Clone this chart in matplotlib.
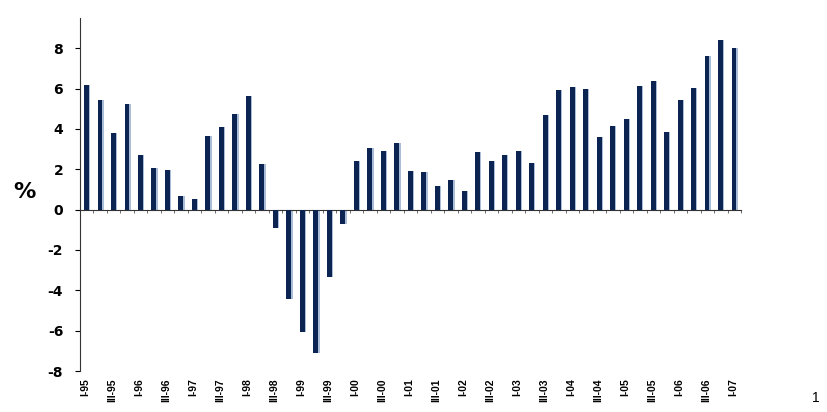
import numpy as np
import matplotlib
matplotlib.use("Agg")
import matplotlib.pyplot as plt

# quarterly growth, I-95 .. I-07
quarters = [f"{q}-{y:02d}" for y in list(range(95, 100)) + list(range(0, 8))
            for q in ("I", "II", "III", "IV")][:49]
values = [6.18, 5.45, 3.82, 5.21, 2.71, 2.05, 1.98, 0.66, 0.53, 3.65,
          4.07, 4.76, 5.65, 2.26, -0.90, -4.41, -6.09, -7.11, -3.36, -0.71,
          2.41, 3.07, 2.88, 3.29, 1.92, 1.88, 1.19, 1.47, 0.91, 2.83,
          2.41, 2.69, 2.91, 2.30, 4.71, 5.95, 6.10, 5.98, 3.60, 4.13,
          4.50, 6.15, 6.38, 3.85, 5.45, 6.02, 7.62, 8.43, 8.03]
shown_labels = quarters[::2]
yticks = [-8, -6, -4, -2, 0, 2, 4, 6, 8]

plt.rcParams['font.family'] = ['Liberation Sans', 'DejaVu Sans']

fig = plt.figure(figsize=(8.28, 4.12), dpi=100)
ax = fig.add_axes([0.0966, 0.0995, 0.7984, 0.857])

x = np.arange(len(values))
# light edge strip behind each bar, then the dark bar
ax.bar(x + 0.06, values, width=0.40, color="#a9bcd8", linewidth=0, zorder=2)
ax.bar(x - 0.02, values, width=0.36, color="#0b2452", linewidth=0, zorder=3)

ax.set_xlim(-0.5, len(values) - 0.5)
ax.set_ylim(-8, 9.5)

for s in ("top", "right"):
    ax.spines[s].set_visible(False)
ax.spines["bottom"].set_position(("data", 0))
ax.spines["bottom"].set_color("#333333")
ax.spines["left"].set_color("#333333")

ax.set_yticks(yticks)
ax.set_yticklabels([str(v) for v in yticks], fontsize=10, fontweight="bold",
                   family="DejaVu Sans")
ax.tick_params(axis="y", direction="out", length=3.6, width=0.8, pad=8.5)

ax.set_xticks(np.arange(-0.5, len(values)))
ax.set_xticklabels([])
ax.tick_params(axis="x", direction="out", length=2.5, width=0.6, colors="#555555")

trans = ax.get_xaxis_transform()
for i, lab in enumerate(shown_labels):
    ax.text(2 * i - 0.1, -0.02, lab, transform=trans, rotation=90, ha="center",
            va="top", fontsize=7.5, fontweight="bold")

fig.text(0.03, 0.535, "%", fontsize=16, fontweight="bold", ha="center", va="center",
         family="DejaVu Sans")
fig.text(0.985, 0.035, "1", fontsize=10, ha="center", va="center")

fig.savefig("out.png", dpi=100)
